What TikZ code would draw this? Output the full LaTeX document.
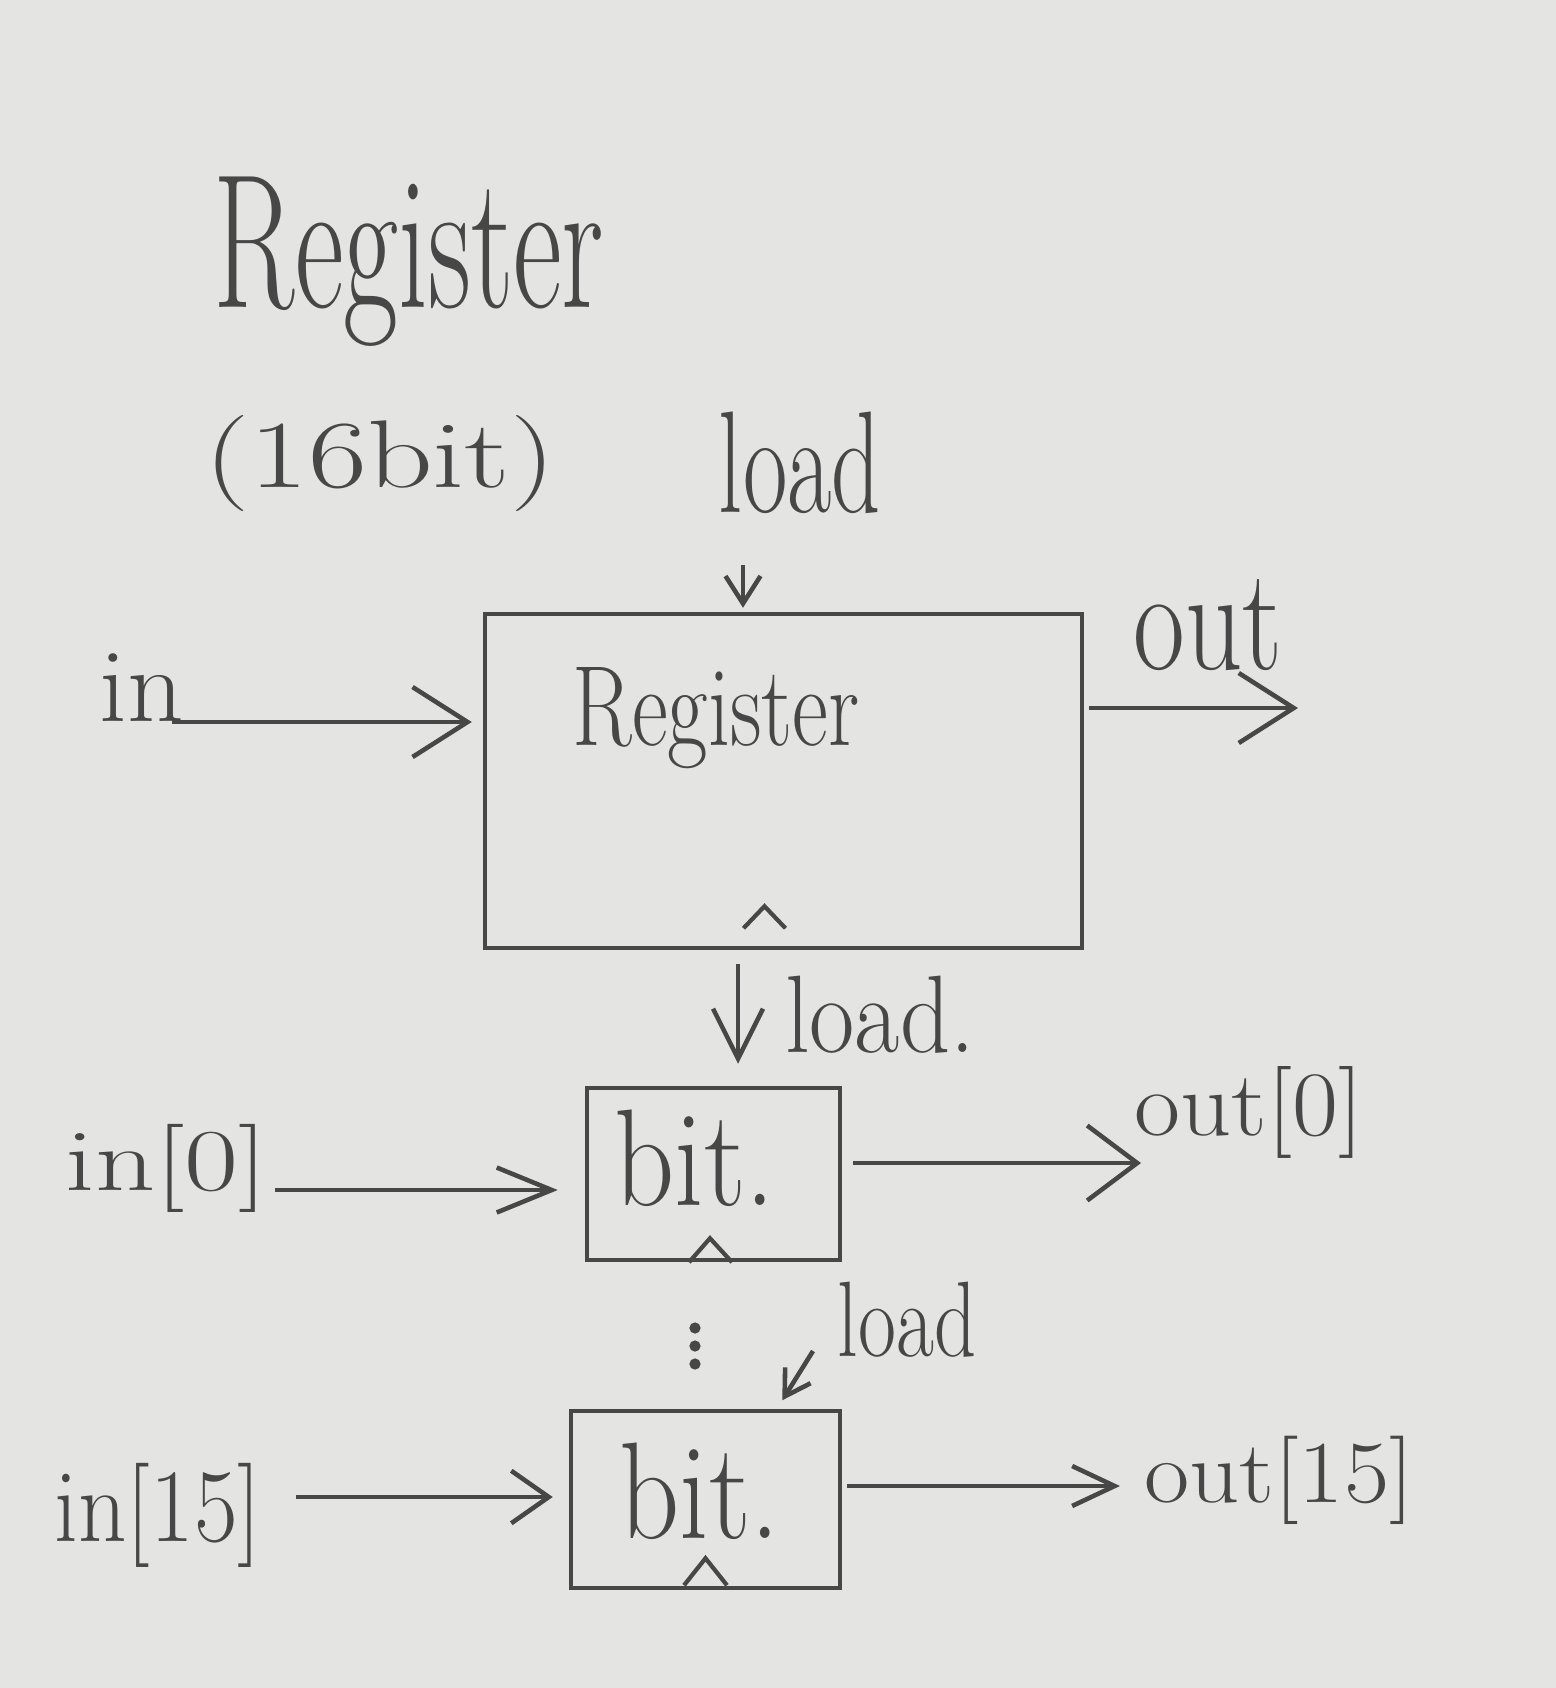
\documentclass[tikz,border=0pt]{standalone}
\usetikzlibrary{arrows.meta,calc}
\definecolor{paper}{HTML}{E4E4E2}
\definecolor{pencil}{HTML}{474747}
\newcommand{\hw}[3]{\scalebox{1}[#2]{\fontsize{#1}{#1}\selectfont #3}}
\begin{document}
\begin{tikzpicture}[x=0.02cm,y=-0.02cm,line width=2.6pt,color=pencil,
  lbl/.style={inner sep=0pt,anchor=center},
  box/.style={draw,rectangle,inner sep=0pt},
  arr/.style 2 args={-{Straight Barb[length=#1,width=#2]}},
  clk/.style={line width=2.4pt,line join=miter}]
\fill[paper] (0,0) rectangle (1556,1688);
\useasboundingbox (0,0) rectangle (1556,1688);

% title
\node[lbl] (title) at (409,262) {\hw{68}{1.6}{Register}};
\node[lbl] (width) at (380,463) {\hw{73}{0.75}{(16bit)}};

% main register
\node[box,minimum width=11.94cm,minimum height=6.68cm] (reg) at (783.5,781) {};
\node[lbl] (regtxt) at (716,718) {\hw{50}{1.3}{Register}};
\draw[clk] ($(reg.south)+(-40,-22)$) -- ($(reg.south)+(-19,-44)$) -- ($(reg.south)+(2,-22)$);

\node[lbl] (ldtoptxt) at (800,463) {\hw{55}{1.5}{load}};
\coordinate (ldTop) at (743,565);
\draw[arr={0.55cm}{0.7cm},shorten >=0.08cm] (ldTop) -- (ldTop |- reg.north);

\node[lbl] (intxt) at (142,688) {\hw{63}{0.95}{in}};
\coordinate (inS) at (172,722);
\draw[arr={1.1cm}{1.4cm},shorten >=0.22cm] (inS) -- (inS -| reg.west);

\node[lbl] (outtxt) at (1208,625) {\hw{64}{1.3}{out}};
\coordinate (outE) at (1298,708);
\draw[arr={1.1cm}{1.4cm},shorten <=0.1cm] (reg.east |- outE) -- (outE);

% bit 0
\node[box,minimum width=5.06cm,minimum height=3.44cm] (bitA) at (713.5,1174) {};
\node[lbl] (bitAtxt) at (695,1158) {\hw{67}{1.17}{bit.}};
\draw[clk] ($(bitA.south)+(-24.5,0)$) -- ($(bitA.south)+(-3.5,-24)$) -- ($(bitA.south)+(18.5,0)$);

\node[lbl] (ldmidtxt) at (880,1015) {\hw{56}{1.12}{load.}};
\coordinate (ldMid) at (738,964);
\draw[arr={1.0cm}{1.0cm},shorten >=0.44cm] (ldMid) -- (ldMid |- bitA.north);

\node[lbl] (in0txt) at (167,1168) {\hw{67}{0.75}{in[0]}};
\coordinate (in0S) at (275,1190);
\draw[arr={1.1cm}{0.9cm},shorten >=0.54cm] (in0S) -- (in0S -| bitA.west);

\node[lbl] (out0txt) at (1249,1112) {\hw{57}{0.92}{out[0]}};
\coordinate (out0E) at (1141,1163);
\draw[arr={1.0cm}{1.5cm},shorten <=0.22cm] (bitA.east |- out0E) -- (out0E);

% dots
\foreach \yy in {1328,1346,1364}{\fill (695,\yy) circle[radius=3.2pt];}

% bit 15
\node[box,minimum width=5.38cm,minimum height=3.54cm] (bitB) at (705.5,1499.5) {};
\node[lbl] (bitBtxt) at (700,1491) {\hw{67}{1.17}{bit.}};
\draw[clk] ($(bitB.south)+(-21.5,-5)$) -- ($(bitB.south)+(0,-32)$) -- ($(bitB.south)+(21.5,-5)$);

\node[lbl] (ldlowtxt) at (907,1320) {\hw{47}{1.3}{load}};
\coordinate (ldLow) at (813,1351);
\draw[arr={0.5cm}{0.6cm},shorten >=0.2cm] (ldLow) -- ($(bitB.north)+(71.5,0)$);

\node[lbl] (in15txt) at (158,1515) {\hw{54}{1.1}{in[15]}};
\coordinate (in15S) at (296,1497);
\draw[arr={0.75cm}{1.05cm},shorten >=0.32cm] (in15S) -- (in15S -| bitB.west);

\node[lbl] (out15txt) at (1279,1480) {\hw{56}{0.9}{out[15]}};
\coordinate (out15E) at (1120,1486);
\draw[arr={0.85cm}{0.8cm},shorten <=0.1cm] (bitB.east |- out15E) -- (out15E);
\end{tikzpicture}
\end{document}
